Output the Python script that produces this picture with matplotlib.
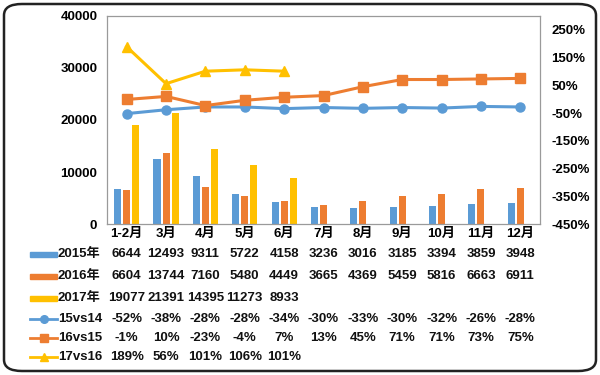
import matplotlib
matplotlib.use("Agg")
import matplotlib.pyplot as plt
import matplotlib.transforms as mtransforms
from matplotlib.patches import FancyBboxPatch, Rectangle
from matplotlib.lines import Line2D
import numpy as np

plt.rcParams['font.family'] = ['Liberation Sans', 'Noto Sans CJK SC', 'DejaVu Sans']
plt.rcParams['font.weight'] = 'bold'

categories = ["1-2月", "3月", "4月", "5月", "6月", "7月", "8月", "9月", "10月", "11月", "12月"]
sales_2015 = [6644, 12493, 9311, 5722, 4158, 3236, 3016, 3185, 3394, 3859, 3948]
sales_2016 = [6604, 13744, 7160, 5480, 4449, 3665, 4369, 5459, 5816, 6663, 6911]
sales_2017 = [19077, 21391, 14395, 11273, 8933]
g15vs14 = [-52, -38, -28, -28, -34, -30, -33, -30, -32, -26, -28]
g16vs15 = [-1, 10, -23, -4, 7, 13, 45, 71, 71, 73, 75]
g17vs16 = [189, 56, 101, 106, 101]

left_ticks = [0, 10000, 20000, 30000, 40000]
right_ticks = [-450, -350, -250, -150, -50, 50, 150, 250]

c_blue = "#5B9BD5"
c_orange = "#ED7D31"
c_yellow = "#FFC000"

FS = 9.5
W, H = 600, 375
fig = plt.figure(figsize=(6, 3.75), dpi=100)
fig.patch.set_facecolor("white")

# rounded border
border = FancyBboxPatch((4 / W, 4 / H), 592 / W, 367 / H,
                        boxstyle="round,pad=0,rounding_size=0.03",
                        transform=fig.transFigure, fill=False,
                        edgecolor="#222222", linewidth=1.8)
fig.patches.append(border)

ax = fig.add_axes([107 / W, 1 - 224 / H, (540 - 107) / W, (224 - 16) / H])
n = len(categories)
x = np.arange(n)
bw = 0.18
off = 0.23
ax.bar(x - off, sales_2015, width=bw, color=c_blue, zorder=2)
ax.bar(x, sales_2016, width=bw, color=c_orange, zorder=2)
ax.bar(np.arange(len(sales_2017)) + off, sales_2017, width=bw, color=c_yellow, zorder=2)
ax.set_xlim(-0.5, n - 0.5)
ax.set_ylim(0, 40000)
ax.set_yticks(left_ticks)
ax.set_yticklabels([str(t) for t in left_ticks], fontsize=FS, fontweight='bold')
ax.set_xticks(x)
ax.set_xticklabels(categories, fontsize=FS, fontweight='bold')
ax.tick_params(axis='x', length=0, pad=3)
ax.tick_params(axis='y', length=0, pad=7)
for s in ax.spines.values():
    s.set_color("#9a9a9a")
    s.set_linewidth(0.9)

ax2 = ax.twinx()
ax2.plot(x, g15vs14, color=c_blue, marker='o', markersize=6.5, linewidth=2.2, zorder=3)
ax2.plot(x, g16vs15, color=c_orange, marker='s', markersize=6.5, linewidth=2.2, zorder=3)
ax2.plot(np.arange(len(g17vs16)), g17vs16, color=c_yellow, marker='^', markersize=6.5, linewidth=2.2, zorder=3)
ax2.set_ylim(-450, 300)
ax2.set_yticks(right_ticks)
ax2.set_yticklabels([f"{t}%" for t in right_ticks], fontsize=FS, fontweight='bold')
ax2.tick_params(axis='y', length=0, pad=8)
for s in ax2.spines.values():
    s.set_visible(False)

# data table
trans = mtransforms.blended_transform_factory(ax.transData, fig.transFigure)
rows = [
    ("2015年", [str(v) for v in sales_2015], c_blue, 'bar', None),
    ("2016年", [str(v) for v in sales_2016], c_orange, 'bar', None),
    ("2017年", [str(v) for v in sales_2017], c_yellow, 'bar', None),
    ("15vs14", [f"{v}%" for v in g15vs14], c_blue, 'line', 'o'),
    ("16vs15", [f"{v}%" for v in g16vs15], c_orange, 'line', 's'),
    ("17vs16", [f"{v}%" for v in g17vs16], c_yellow, 'line', '^'),
]
row_y = [254, 276, 298, 319, 338, 357]
for (label, vals, col, kind, mk), yp in zip(rows, row_y):
    yf = 1 - yp / H
    for i, v in enumerate(vals):
        ax.text(i, yf, v, transform=trans, ha='center', va='center',
                fontsize=FS, fontweight='bold', color="#111111", clip_on=False)
    fig.text(58 / W, yf, label, ha='left', va='center', fontsize=FS,
             fontweight='bold', color="#111111")
    if kind == 'bar':
        fig.patches.append(Rectangle((30 / W, yf - 2.5 / H), 27 / W, 5 / H,
                                     transform=fig.transFigure, color=col))
    else:
        fig.lines.append(Line2D([30 / W, 57 / W], [yf, yf], transform=fig.transFigure,
                                color=col, linewidth=2, marker=None))
        fig.lines.append(Line2D([43.5 / W], [yf], transform=fig.transFigure,
                                color=col, marker=mk, markersize=5.5, linestyle='none'))

fig.savefig("out.png", dpi=100)
